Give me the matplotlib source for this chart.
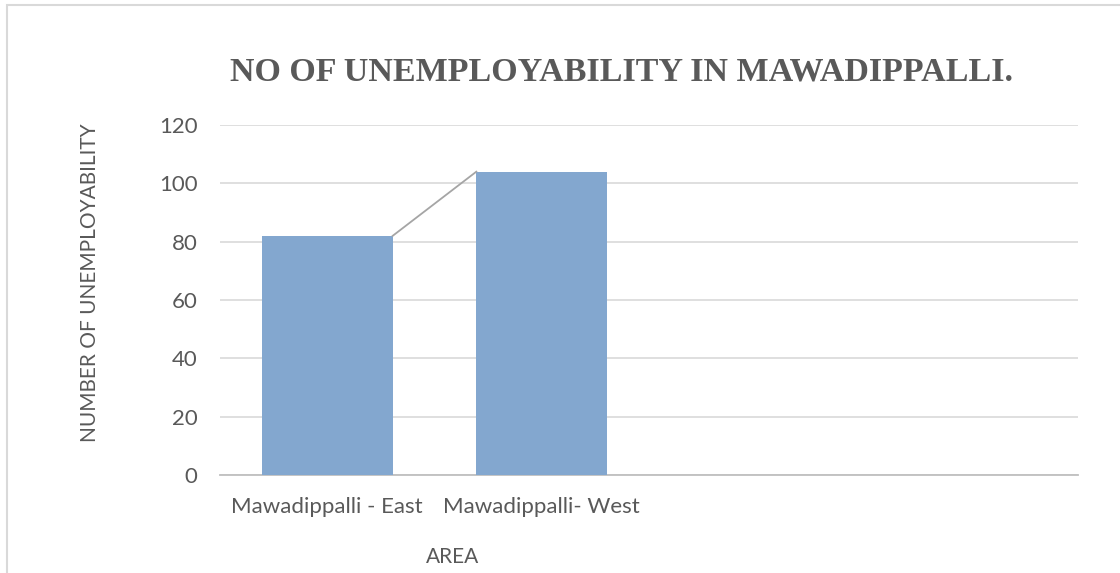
import matplotlib.pyplot as plt
from matplotlib.patches import Rectangle

# unemployability counts per area (last two slots are empty categories)
areas = ['Mawadippalli - East', 'Mawadippalli- West', '', '']
counts = [82, 104]
yticks = [0, 20, 40, 60, 80, 100, 120]

text_grey = '#595959'
bar_blue = '#83A7CF'
bar_width = 0.61

fig = plt.figure(figsize=(11.2, 5.73), dpi=100)
ax = fig.add_axes([0.1964, 0.1710, 0.7661, 0.6108])

xpos = list(range(len(areas)))
ax.bar(xpos[:len(counts)], counts, width=bar_width, color=bar_blue, zorder=3)

# series line joining the bar tops
ax.plot([xpos[0] + bar_width / 2, xpos[1] - bar_width / 2], counts,
        color='#A5A5A5', lw=1.3, zorder=4)

ax.set_xlim(-0.5, len(areas) - 0.5)
ax.set_ylim(0, 120)
ax.set_yticks(yticks)
ax.set_xticks(xpos)
ax.set_xticklabels(areas)

ax.grid(axis='y', color='#D9D9D9', lw=1.2, zorder=0)
for side in ['top', 'right', 'left']:
    ax.spines[side].set_visible(False)
ax.spines['bottom'].set_color('#BFBFBF')
ax.spines['bottom'].set_linewidth(1.3)
ax.tick_params(axis='both', length=0, labelsize=16, colors=text_grey)
ax.tick_params(axis='y', pad=16)
ax.tick_params(axis='x', pad=16)
for lbl in ax.get_xticklabels() + ax.get_yticklabels():
    lbl.set_family('Lato')

fig.text(0.555, 0.874, 'NO OF UNEMPLOYABILITY IN MAWADIPPALLI.', ha='center', va='center',
         fontsize=24.5, fontweight='bold', family='Liberation Serif', color=text_grey)
fig.text(0.0804, 0.506, 'NUMBER OF UNEMPLOYABILITY', rotation=90, ha='center', va='center',
         fontsize=15, family='Lato', color=text_grey)
fig.text(0.4045, 0.028, 'AREA', ha='center', va='center',
         fontsize=15, family='Lato', color=text_grey)

# chart frame (right and bottom edges fall outside the image)
fig.patches.append(Rectangle((7 / 1120, -0.05), 1.2, 1 - 5 / 573 + 0.05,
                             transform=fig.transFigure, fill=False,
                             edgecolor='#D9D9D9', lw=1.5))

fig.savefig('out.png', dpi=100)
